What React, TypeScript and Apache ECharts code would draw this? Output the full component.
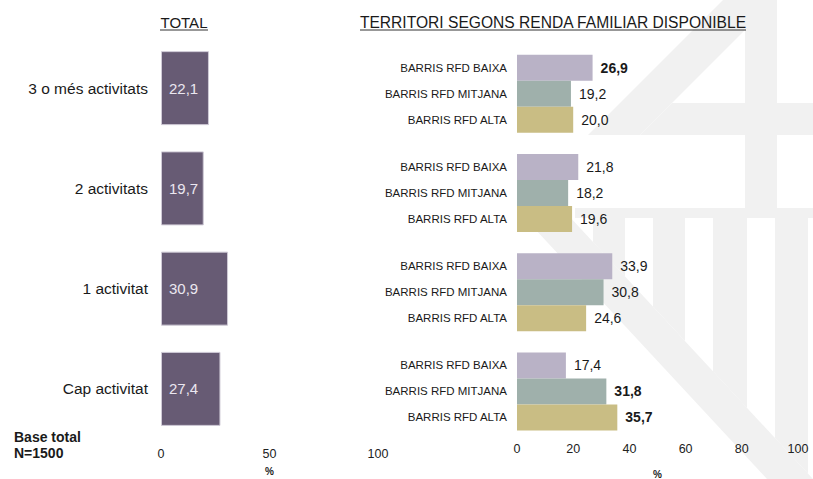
import React, { useEffect, useRef } from 'react';
import * as echarts from 'echarts';

const totalCategories = ['3 o més activitats', '2 activitats', '1 activitat', 'Cap activitat'];
const totalValues = [22.1, 19.7, 30.9, 27.4];
const rfdNames = ['BARRIS RFD BAIXA', 'BARRIS RFD MITJANA', 'BARRIS RFD ALTA'];
const rfdBaixa = [26.9, 21.8, 33.9, 17.4];
const rfdMitjana = [19.2, 18.2, 30.8, 31.8];
const rfdAlta = [20.0, 19.6, 24.6, 35.7];
const rfdBaixaBold = [true, false, false, false];
const rfdMitjanaBold = [false, false, false, true];
const rfdAltaBold = [false, false, false, true];
const totalTicks = [0, 50, 100];
const rfdTicks = [0, 20, 40, 60, 80, 100];
const titleTotal = 'TOTAL';
const titleRfd = 'TERRITORI SEGONS RENDA FAMILIAR DISPONIBLE';
const baseLines = ['Base total', 'N=1500'];
const axisUnit = '%';

const FONT = '"Liberation Sans", Arial, Helvetica, sans-serif';
const TOTAL_COLOR = '#675b74';
const RFD_COLORS = ['#b9b2c6', '#9fb0ab', '#c9bd84'];
const WM = '#f1f1f1';

const fmt = (v: number) => v.toFixed(1).replace('.', ',');

export default function App() {
  const ref = useRef<HTMLDivElement>(null);
  useEffect(() => {
    document.body.style.margin = '0';
    if (!ref.current) return;
    const chart = echarts.init(ref.current, null, { renderer: 'svg' });

    const rfdValues = [rfdBaixa, rfdMitjana, rfdAlta];
    const rfdBold = [rfdBaixaBold, rfdMitjanaBold, rfdAltaBold];

    const rfdSeries: any[] = [];
    rfdNames.forEach((name, i) => {
      rfdSeries.push({
        type: 'bar',
        name: name + '_label',
        xAxisIndex: 1,
        yAxisIndex: 1,
        stack: 's' + i,
        barWidth: 26,
        barGap: '0%',
        silent: true,
        data: rfdValues[i].map(() => 0),
        itemStyle: { color: 'transparent' },
        label: {
          show: true,
          position: 'left',
          distance: 10,
          formatter: () => name,
          fontFamily: FONT,
          fontSize: 11.5,
          color: '#1a1a1a',
        },
      });
      rfdSeries.push({
        type: 'bar',
        name,
        xAxisIndex: 1,
        yAxisIndex: 1,
        stack: 's' + i,
        barWidth: 26,
        barGap: '0%',
        itemStyle: { color: RFD_COLORS[i] },
        data: rfdValues[i].map((v, j) => ({
          value: v,
          label: { fontWeight: rfdBold[i][j] ? 'bold' : 'normal' },
        })),
        label: {
          show: true,
          position: 'right',
          distance: 8,
          formatter: (p: any) => fmt(p.value),
          fontFamily: FONT,
          fontSize: 14,
          color: '#1a1a1a',
        },
      });
    });

    const bandBottomY = (x: number) => 215 + (x - 568) / 0.928;
    const columns = [[593, 625], [653, 685], [713, 747], [775, 808]];

    const watermark: any[] = [
      { type: 'polygon', z: -10, shape: { points: [[723, 0], [775, 0], [640, 135], [588, 135]] }, style: { fill: WM } },
      { type: 'polygon', z: -10, shape: { points: [[672, 103], [813, 103], [813, 135], [640, 135]] }, style: { fill: WM } },
      { type: 'rect', z: -10, shape: { x: 745, y: 0, width: 32, height: 210 }, style: { fill: WM } },
      { type: 'rect', z: -10, shape: { x: 575, y: 208, width: 238, height: 10 }, style: { fill: WM } },
      { type: 'polygon', z: -10, shape: { points: [[522, 215], [568, 215], [813, 479], [767, 479]] }, style: { fill: WM } },
      ...columns.map(([a, b]) => ({
        type: 'polygon',
        z: -10,
        shape: { points: [[a, 218], [b, 218], [b, bandBottomY(b)], [a, bandBottomY(a)]] },
        style: { fill: WM },
      })),
    ];

    const option: any = {
      animation: false,
      backgroundColor: '#ffffff',
      textStyle: { fontFamily: FONT },
      grid: [
        { left: 161, top: 38, width: 217, height: 401, outerBoundsMode: 'none', containLabel: false },
        { left: 517, top: 44, width: 281, height: 397, outerBoundsMode: 'none', containLabel: false },
      ],
      xAxis: [
        {
          gridIndex: 0,
          type: 'value',
          min: totalTicks[0],
          max: totalTicks[totalTicks.length - 1],
          interval: totalTicks[1] - totalTicks[0],
          axisLine: { show: false },
          axisTick: { show: false },
          splitLine: { show: false },
          axisLabel: { margin: 8, fontSize: 12.5, color: '#222', fontFamily: FONT },
          name: axisUnit,
          nameLocation: 'middle',
          nameGap: 27,
          nameTextStyle: { fontSize: 10, fontWeight: 'bold', color: '#222', fontFamily: FONT },
        },
        {
          gridIndex: 1,
          type: 'value',
          min: rfdTicks[0],
          max: rfdTicks[rfdTicks.length - 1],
          interval: rfdTicks[1] - rfdTicks[0],
          axisLine: { show: false },
          axisTick: { show: false },
          splitLine: { show: false },
          axisLabel: { margin: 1, fontSize: 12.5, color: '#222', fontFamily: FONT },
          name: axisUnit,
          nameLocation: 'middle',
          nameGap: 28,
          nameTextStyle: { fontSize: 10, fontWeight: 'bold', color: '#222', fontFamily: FONT },
        },
      ],
      yAxis: [
        {
          gridIndex: 0,
          type: 'category',
          data: totalCategories,
          inverse: true,
          axisLine: { show: false },
          axisTick: { show: false },
          axisLabel: { margin: 13, fontSize: 15.5, color: '#1a1a1a', fontFamily: FONT },
        },
        {
          gridIndex: 1,
          type: 'category',
          data: totalCategories,
          inverse: true,
          axisLine: { show: false },
          axisTick: { show: false },
          axisLabel: { show: false },
        },
      ],
      series: [
        {
          type: 'bar',
          name: 'TOTAL',
          xAxisIndex: 0,
          yAxisIndex: 0,
          barWidth: 74,
          data: totalValues,
          itemStyle: { color: TOTAL_COLOR, borderColor: '#cfcad6', borderWidth: 1 },
          label: {
            show: true,
            position: 'insideLeft',
            distance: 8,
            formatter: (p: any) => fmt(p.value),
            fontFamily: FONT,
            fontSize: 15,
            color: '#ebe7f0',
          },
        },
        ...rfdSeries,
      ],
      graphic: [
        ...watermark,
        {
          type: 'text',
          x: 184,
          y: 22,
          style: { text: titleTotal, align: 'center', verticalAlign: 'middle', fontFamily: FONT, fontSize: 15, fill: '#1a1a1a' },
        },
        { type: 'line', shape: { x1: 160, y1: 30, x2: 208, y2: 30 }, style: { stroke: '#333', lineWidth: 1 } },
        {
          type: 'text',
          x: 553,
          y: 22,
          style: { text: titleRfd, align: 'center', verticalAlign: 'middle', fontFamily: FONT, fontSize: 15.6, fill: '#1a1a1a' },
        },
        { type: 'line', shape: { x1: 360, y1: 30, x2: 746, y2: 30 }, style: { stroke: '#333', lineWidth: 1 } },
        {
          type: 'text',
          x: 14,
          y: 437,
          style: { text: baseLines[0], align: 'left', verticalAlign: 'middle', fontFamily: FONT, fontSize: 14, fontWeight: 'bold', fill: '#1a1a1a' },
        },
        {
          type: 'text',
          x: 14,
          y: 453,
          style: { text: baseLines[1], align: 'left', verticalAlign: 'middle', fontFamily: FONT, fontSize: 14, fontWeight: 'bold', fill: '#1a1a1a' },
        },
      ],
    };
    chart.setOption(option);
    return () => chart.dispose();
  }, []);
  return <div ref={ref} style={{ width: 813, height: 479 }} />;
}
